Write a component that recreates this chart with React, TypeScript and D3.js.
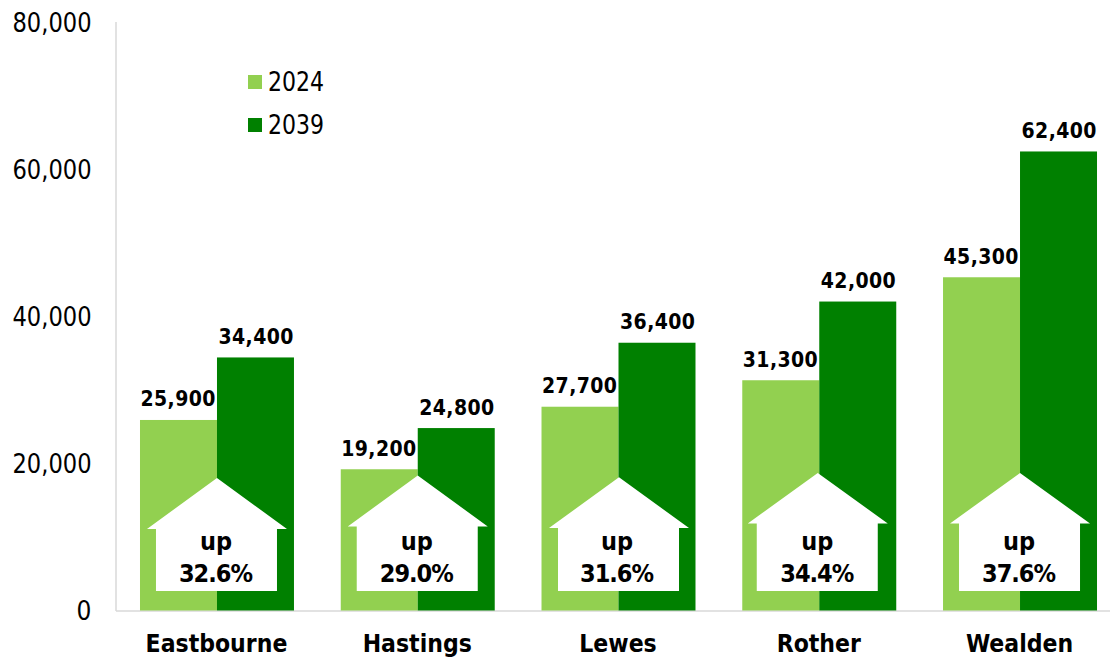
import React from "react";
import * as d3 from "d3";

const categories = ["Eastbourne", "Hastings", "Lewes", "Rother", "Wealden"];
const values2024 = [25900, 19200, 27700, 31300, 45300];
const values2039 = [34400, 24800, 36400, 42000, 62400];
const increases = ["32.6%", "29.0%", "31.6%", "34.4%", "37.6%"];
const yTicks = [0, 20000, 40000, 60000, 80000];
const houseTops = [478, 475.5, 477.3, 473, 473];
const houseEaves = [529, 526.5, 528, 523.5, 523.5];
const houseOffsets = [0, 0, 0.5, -1.5, 0];
const labelOffsets = [-1, -1, -1.5, -2, -1];
const FONT = "'DejaVu Sans Condensed', 'DejaVu Sans', sans-serif";
const LIGHT = "#92D050";
const DARK = "#008000";

export default function App() {
  const y = d3.scaleLinear().domain([0, 80000]).range([610.5, 22]);
  const x = d3.scaleBand().domain(categories).range([116.6, 1120.4]).paddingInner(0.233).paddingOuter(0.1165);
  const fmt = d3.format(",");
  const w = x.bandwidth() / 2;
  return (
    <svg width={1110} height={658} style={{ position: "absolute", left: 0, top: 0 }} fontFamily={FONT} fontStretch="condensed">
      <rect width={1110} height={658} fill="#fff" />
      <line x1={116} x2={116} y1={22} y2={611} stroke="#d9d9d9" strokeWidth={1.5} />
      <line x1={116} x2={1110} y1={611} y2={611} stroke="#d9d9d9" strokeWidth={1.5} />
      {yTicks.map((t) => (
        <text key={t} x={91.5} y={y(t) + 9.5} textAnchor="end" fontSize={26} textLength={t === 0 ? undefined : 79} lengthAdjust="spacingAndGlyphs" fill="#000">{fmt(t)}</text>
      ))}
      {categories.map((c, i) => {
        const x0 = x(c)!;
        const cx = x0 + w;
        const hx = cx + houseOffsets[i];
        const top = houseTops[i];
        const eave = houseEaves[i];
        const house = d3.path();
        house.moveTo(hx, top);
        house.lineTo(hx + 70, eave);
        house.lineTo(hx + 60, eave);
        house.lineTo(hx + 60, 591);
        house.lineTo(hx - 61, 591);
        house.lineTo(hx - 61, eave);
        house.lineTo(hx - 70, eave);
        house.closePath();
        const tx = cx + labelOffsets[i];
        return (
          <g key={c}>
            <rect x={x0} width={w} y={y(values2024[i])} height={y(0) - y(values2024[i])} fill={LIGHT} />
            <rect x={cx} width={w} y={y(values2039[i])} height={y(0) - y(values2039[i])} fill={DARK} />
            <path d={house.toString()} fill="#fff" />
            <text x={cx - 39} y={y(values2024[i]) - 13.5} textAnchor="middle" fontSize={21} fontWeight="bold" textLength={75} lengthAdjust="spacing">{fmt(values2024[i])}</text>
            <text x={cx + 39} y={y(values2039[i]) - 13.5} textAnchor="middle" fontSize={21} fontWeight="bold" textLength={75} lengthAdjust="spacing">{fmt(values2039[i])}</text>
            <text x={tx} y={549.5} textAnchor="middle" fontSize={25} fontWeight="bold">up</text>
            <text x={tx} y={581.5} textAnchor="middle" fontSize={25} fontWeight="bold" textLength={74} lengthAdjust="spacing">{increases[i]}</text>
            <text x={cx - 0.5} y={651.7} textAnchor="middle" fontSize={24.5} fontWeight="bold">{c}</text>
          </g>
        );
      })}
      <rect x={248} y={75} width={14} height={14} fill={LIGHT} />
      <text x={268} y={91} fontSize={26} textLength={56} lengthAdjust="spacingAndGlyphs">2024</text>
      <rect x={248} y={118} width={14} height={14} fill={DARK} />
      <text x={268} y={134} fontSize={26} textLength={56} lengthAdjust="spacingAndGlyphs">2039</text>
    </svg>
  );
}
